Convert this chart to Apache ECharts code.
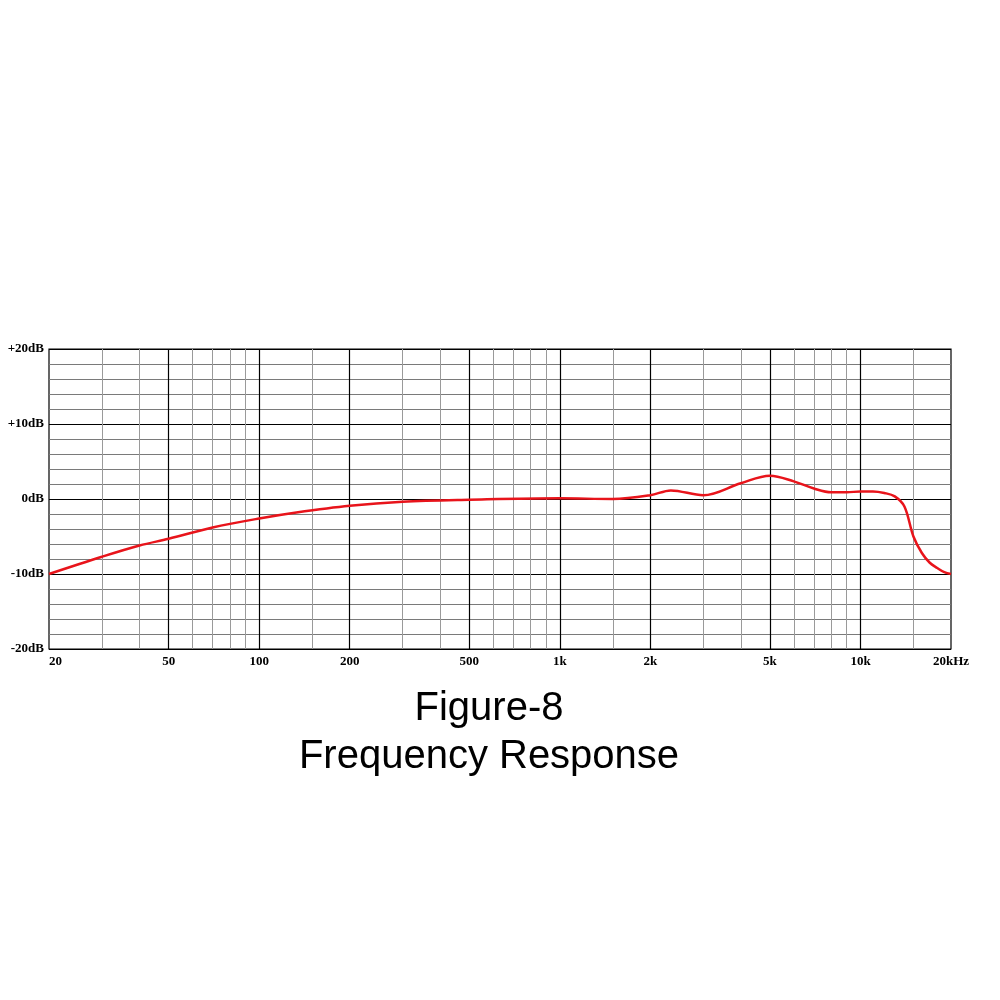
<!DOCTYPE html>
<html>
<head>
<meta charset="utf-8">
<script src="https://cdn.jsdelivr.net/npm/echarts@6/dist/echarts.min.js"></script>
<style>
  html, body { margin: 0; padding: 0; background: #fff; }
  #chart { width: 1000px; height: 1000px; }
</style>
</head>
<body>
<div id="chart"></div>
<script>
// frequency (Hz) and level (dB)
var freqs = [20, 30, 40, 50, 70, 100, 133, 200, 300, 500, 1000, 1500, 2000, 2340, 3000, 4000, 5000, 6000, 7000, 8000, 9000, 10000, 11000, 12000, 13000, 14000, 15000, 16000, 17000, 18000, 19000, 20000];
var gain = [-10, -7.7, -6.2, -5.3, -3.8, -2.6, -1.8, -0.9, -0.36, -0.1, 0.1, 0.0, 0.5, 1.15, 0.5, 2.1, 3.1, 2.35, 1.4, 0.9, 0.9, 1.0, 1.0, 0.8, 0.35, -1.0, -5.0, -7.2, -8.5, -9.2, -9.75, -10];

// x tick labels
var xLabelValues = [20, 50, 100, 200, 500, 1000, 2000, 5000, 10000, 20000];
var xLabelTexts = ["20", "50", "100", "200", "500", "1k", "2k", "5k", "10k", "20kHz"];

// vertical grid lines
var majorFreqs = [50, 100, 200, 500, 1000, 2000, 5000, 10000];
var minorFreqs = [30, 40, 60, 70, 80, 90, 150, 300, 400, 600, 700, 800, 900, 1500, 3000, 4000, 6000, 7000, 8000, 9000, 15000];

var chart = echarts.init(document.getElementById("chart"));

function vLines(list) {
  return list.map(function (f) { return { xAxis: f }; });
}

var labelFont = {
  fontFamily: "Liberation Serif",
  fontWeight: "bold",
  fontSize: 13,
  color: "#000",
};

var option = {
  animation: false,
  backgroundColor: "#fff",
  title: {
    text: "Figure-8\nFrequency Response",
    left: 489,
    top: 685,
    padding: 0,
    textAlign: "center",
    textStyle: {
      fontFamily: "Liberation Sans",
      fontWeight: "normal",
      fontSize: 40,
      lineHeight: 48,
      color: "#000",
    },
  },
  grid: {
    left: 49,
    right: 49,
    top: 349,
    bottom: 351,
    show: true,
    borderColor: "#000",
    borderWidth: 1.2,
  },
  xAxis: {
    type: "log",
    logBase: 10,
    min: 20,
    max: 20000,
    axisLine: { show: false },
    axisTick: { show: false },
    splitLine: { show: false },
    axisLabel: Object.assign({
      customValues: xLabelValues,
      margin: 6,
      alignMinLabel: "left",
      alignMaxLabel: "center",
      formatter: function (v) {
        var i = xLabelValues.indexOf(Math.round(v));
        return i >= 0 ? xLabelTexts[i] : "";
      },
    }, labelFont),
  },
  yAxis: {
    type: "value",
    min: -20,
    max: 20,
    interval: 10,
    axisLine: { show: false },
    axisTick: { show: false },
    splitLine: { lineStyle: { color: "#000", width: 1.2 } },
    minorTick: { show: false, splitNumber: 5 },
    minorSplitLine: { show: true, lineStyle: { color: "#7a7a7a", width: 1 } },
    axisLabel: Object.assign({
      margin: 5,
      formatter: function (v) {
        return (v > 0 ? "+" : "") + v + "dB";
      },
    }, labelFont),
  },
  series: [
    {
      name: "minor",
      type: "line",
      data: [],
      silent: true,
      markLine: {
        silent: true,
        z: 1,
        symbol: "none",
        label: { show: false },
        lineStyle: { color: "#9a9a9a", width: 1, type: "solid" },
        data: vLines(minorFreqs),
      },
    },
    {
      name: "major",
      type: "line",
      data: [],
      silent: true,
      markLine: {
        silent: true,
        z: 1,
        symbol: "none",
        label: { show: false },
        lineStyle: { color: "#000", width: 1.2, type: "solid" },
        data: vLines(majorFreqs),
      },
    },
    {
      name: "response",
      type: "line",
      z: 5,
      smooth: 0.35,
      showSymbol: false,
      lineStyle: { color: "#e8141b", width: 2.5 },
      data: freqs.map(function (f, i) { return [f, gain[i]]; }),
    },
  ],
};

chart.setOption(option);
</script>
</body>
</html>
